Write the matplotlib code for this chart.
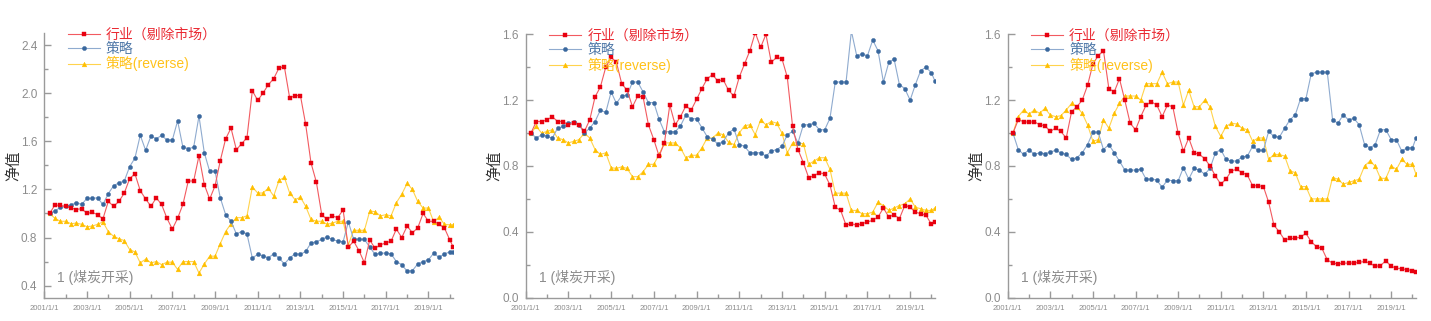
import matplotlib
matplotlib.use("Agg")
import matplotlib.pyplot as plt
import matplotlib.dates as mdates
from matplotlib.ticker import MultipleLocator, FixedLocator
import pandas as pd

plt.rcParams['font.family'] = ['Liberation Sans', 'Noto Sans CJK SC', 'DejaVu Sans']

# ---------------- data ----------------
dates = list(pd.date_range("2001-04-01", "2020-01-01", freq="QS")) + [pd.Timestamp("2020-03-01")]

labels = ["行业（剔除市场）", "策略", "策略(reverse)"]
panel_note = "1 (煤炭开采)"
ylabel = "净值"
major_years = [2001, 2003, 2005, 2007, 2009, 2011, 2013, 2015, 2017, 2019]
minor_years = [2002, 2004, 2006, 2008, 2010, 2012, 2014, 2016, 2018, 2020]

p1_ind = [1.00, 1.07, 1.067, 1.06, 1.047, 1.033, 1.04, 1.00, 1.01, 0.99, 0.955, 1.10, 1.06, 1.10, 1.17, 1.29,
          1.33, 1.19, 1.12, 1.06, 1.13, 1.075, 0.96, 0.87, 0.96, 1.075, 1.27, 1.27, 1.48, 1.24, 1.12, 1.23,
          1.44, 1.62, 1.71, 1.53, 1.58, 1.63, 2.02, 1.94, 2.00, 2.07, 2.12, 2.21, 2.22, 1.96, 1.98, 1.98,
          1.74, 1.42, 1.26, 0.99, 0.95, 0.98, 0.965, 1.03, 0.72, 0.77, 0.69, 0.59, 0.78, 0.71, 0.74, 0.755,
          0.77, 0.87, 0.80, 0.895, 0.84, 0.88, 1.00, 0.935, 0.935, 0.91, 0.88, 0.78, 0.72]
p1_str = [1.00, 1.02, 1.05, 1.06, 1.07, 1.09, 1.075, 1.125, 1.125, 1.13, 1.075, 1.165, 1.23, 1.255, 1.27, 1.39,
          1.46, 1.65, 1.525, 1.645, 1.62, 1.65, 1.61, 1.61, 1.77, 1.55, 1.54, 1.55, 1.81, 1.505, 1.35, 1.35,
          1.13, 0.99, 0.935, 0.83, 0.85, 0.83, 0.63, 0.66, 0.65, 0.63, 0.665, 0.63, 0.58, 0.63, 0.665, 0.66,
          0.685, 0.755, 0.765, 0.785, 0.805, 0.785, 0.77, 0.765, 0.93, 0.785, 0.785, 0.785, 0.72, 0.66, 0.67,
          0.67, 0.665, 0.60, 0.575, 0.52, 0.525, 0.58, 0.60, 0.615, 0.67, 0.635, 0.665, 0.68, 0.68]
p1_rev = [1.00, 0.96, 0.935, 0.935, 0.915, 0.92, 0.91, 0.89, 0.895, 0.91, 0.93, 0.85, 0.81, 0.79, 0.775, 0.70,
          0.68, 0.59, 0.62, 0.59, 0.60, 0.575, 0.595, 0.595, 0.535, 0.60, 0.60, 0.60, 0.505, 0.58, 0.645, 0.645,
          0.75, 0.85, 0.915, 0.965, 0.965, 0.98, 1.22, 1.17, 1.17, 1.21, 1.145, 1.275, 1.30, 1.17, 1.115, 1.135,
          1.06, 0.95, 0.935, 0.935, 0.91, 0.92, 0.935, 0.935, 0.74, 0.86, 0.86, 0.86, 1.02, 1.015, 0.98, 0.99,
          0.98, 1.09, 1.16, 1.25, 1.20, 1.10, 1.045, 1.045, 0.93, 0.97, 0.91, 0.905, 0.905]

p2_ind = [1.00, 1.07, 1.07, 1.08, 1.10, 1.07, 1.07, 1.05, 1.06, 1.05, 1.01, 1.08, 1.22, 1.28, 1.40, 1.46,
          1.43, 1.30, 1.26, 1.16, 1.225, 1.22, 1.05, 0.96, 0.86, 0.94, 1.17, 1.05, 1.10, 1.165, 1.14, 1.205,
          1.27, 1.33, 1.355, 1.315, 1.325, 1.26, 1.225, 1.34, 1.42, 1.50, 1.61, 1.52, 1.60, 1.43, 1.46, 1.45,
          1.34, 1.04, 0.90, 0.82, 0.73, 0.74, 0.76, 0.75, 0.685, 0.55, 0.53, 0.44, 0.45, 0.44, 0.45, 0.46,
          0.47, 0.49, 0.545, 0.49, 0.505, 0.48, 0.56, 0.55, 0.52, 0.51, 0.50, 0.445, 0.46]
p2_str = [1.00, 0.97, 0.99, 0.98, 0.97, 1.03, 1.04, 1.06, 1.07, 1.05, 1.00, 1.03, 1.07, 1.14, 1.125, 1.25,
          1.18, 1.227, 1.23, 1.31, 1.31, 1.25, 1.185, 1.185, 1.083, 1.008, 1.008, 1.008, 1.043, 1.11, 1.087,
          1.087, 1.033, 0.978, 0.962, 0.934, 0.948, 1.00, 1.025, 0.93, 0.92, 0.88, 0.88, 0.88, 0.86, 0.89,
          0.90, 0.92, 0.99, 1.01, 0.94, 1.05, 1.05, 1.06, 1.02, 1.02, 1.09, 1.31, 1.31, 1.31, 1.62, 1.47,
          1.48, 1.47, 1.565, 1.50, 1.31, 1.43, 1.45, 1.295, 1.27, 1.20, 1.295, 1.38, 1.40, 1.365, 1.315]
p2_rev = [1.00, 1.04, 1.00, 1.01, 1.02, 0.97, 0.96, 0.94, 0.95, 0.96, 1.00, 0.97, 0.90, 0.87, 0.88, 0.79,
          0.785, 0.795, 0.785, 0.735, 0.735, 0.765, 0.81, 0.81, 0.87, 0.94, 0.94, 0.94, 0.91, 0.85, 0.865,
          0.865, 0.91, 0.97, 0.97, 1.00, 0.99, 0.945, 0.93, 1.00, 1.045, 1.05, 0.99, 1.08, 1.05, 1.07, 1.06,
          1.00, 0.88, 0.94, 0.94, 0.935, 0.81, 0.83, 0.85, 0.85, 0.78, 0.635, 0.635, 0.635, 0.53, 0.53, 0.51,
          0.51, 0.52, 0.58, 0.56, 0.53, 0.545, 0.56, 0.57, 0.60, 0.55, 0.54, 0.53, 0.53, 0.545]

p3_ind = [1.00, 1.08, 1.07, 1.065, 1.07, 1.05, 1.045, 1.01, 1.03, 1.01, 0.97, 1.13, 1.16, 1.20, 1.29, 1.42,
          1.47, 1.50, 1.27, 1.25, 1.33, 1.20, 1.06, 1.02, 1.10, 1.17, 1.19, 1.17, 1.10, 1.17, 1.16, 1.00,
          0.89, 0.97, 0.88, 0.87, 0.845, 0.80, 0.74, 0.69, 0.72, 0.77, 0.78, 0.76, 0.745, 0.68, 0.68, 0.675,
          0.58, 0.44, 0.40, 0.35, 0.36, 0.36, 0.37, 0.39, 0.34, 0.31, 0.30, 0.23, 0.21, 0.205, 0.21, 0.21,
          0.21, 0.215, 0.22, 0.21, 0.19, 0.195, 0.225, 0.19, 0.18, 0.175, 0.17, 0.165, 0.155]
p3_str = [1.00, 0.90, 0.87, 0.90, 0.87, 0.88, 0.875, 0.885, 0.895, 0.88, 0.87, 0.84, 0.85, 0.88, 0.93, 1.005,
          1.005, 0.90, 0.93, 0.88, 0.83, 0.775, 0.775, 0.775, 0.78, 0.72, 0.72, 0.715, 0.67, 0.715, 0.71, 0.71,
          0.79, 0.72, 0.785, 0.775, 0.75, 0.785, 0.88, 0.90, 0.84, 0.83, 0.83, 0.855, 0.86, 0.92, 0.895, 0.895,
          1.01, 0.98, 0.975, 1.03, 1.08, 1.11, 1.21, 1.21, 1.36, 1.37, 1.37, 1.37, 1.08, 1.06, 1.11, 1.08,
          1.09, 1.05, 0.93, 0.91, 0.93, 1.02, 1.02, 0.96, 0.96, 0.89, 0.91, 0.91, 0.97]
p3_rev = [1.00, 1.10, 1.14, 1.115, 1.14, 1.12, 1.15, 1.11, 1.10, 1.105, 1.14, 1.18, 1.16, 1.12, 1.05, 0.95,
          0.96, 1.08, 1.03, 1.12, 1.18, 1.225, 1.225, 1.225, 1.20, 1.30, 1.30, 1.30, 1.37, 1.30, 1.31, 1.31,
          1.17, 1.26, 1.16, 1.16, 1.20, 1.16, 1.04, 0.98, 1.04, 1.06, 1.055, 1.03, 1.02, 0.95, 0.97, 0.97,
          0.84, 0.87, 0.87, 0.86, 0.77, 0.76, 0.675, 0.675, 0.60, 0.60, 0.60, 0.60, 0.73, 0.72, 0.69, 0.70,
          0.71, 0.72, 0.80, 0.83, 0.80, 0.725, 0.725, 0.80, 0.78, 0.84, 0.81, 0.81, 0.75]

panels = [(p1_ind, p1_str, p1_rev), (p2_ind, p2_str, p2_rev), (p3_ind, p3_str, p3_rev)]
ylims = [(0.3, 2.5), (0.0, 1.6), (0.0, 1.6)]

# ---------------- style ----------------
W, H = 1431, 321
fig = plt.figure(figsize=(W / 100, H / 100), dpi=100)
axes_px = [(44.3, 453.3, 33.0, 297.7), (525.7, 935.0, 34.3, 297.7), (1007.7, 1416.0, 34.3, 297.7)]

line_cols = ["#f25a60", "#8fabcf", "#ffd34d"]
mark_cols = ["#e8000f", "#3a689e", "#ffbf00"]
text_cols = ["#ea2a33", "#4f78a8", "#ffc21a"]
markers = ["s", "o", "^"]
msizes = [3.0, 3.0, 3.4]
gray = "#8c8c8c"

major_x = [mdates.date2num(pd.Timestamp(f"{y}-01-01")) for y in major_years]
minor_x = [mdates.date2num(pd.Timestamp(f"{y}-01-01")) for y in minor_years]

for (ind, st, rv), (x0, x1, yt, yb), yl in zip(panels, axes_px, ylims):
    ax = fig.add_axes([x0 / W, 1 - yb / H, (x1 - x0) / W, (yb - yt) / H])
    for i, ser in enumerate((ind, st, rv)):
        ax.plot(dates, ser, color=line_cols[i], lw=0.8, marker=markers[i], ms=msizes[i],
                mfc=mark_cols[i], mec=mark_cols[i], mew=0.3, label=labels[i], zorder=3 - i * 0.1)
    ax.set_xlim(pd.Timestamp("2001-01-01"), dates[-1])
    ax.set_ylim(*yl)
    for s in ("top", "right"):
        ax.spines[s].set_visible(False)
    for s in ("left", "bottom"):
        ax.spines[s].set_color("#9a9a9a")
        ax.spines[s].set_linewidth(1.0)
    ax.yaxis.set_major_locator(MultipleLocator(0.4))
    ax.yaxis.set_minor_locator(MultipleLocator(0.2))
    ax.yaxis.set_major_formatter(plt.FuncFormatter(lambda v, p: f"{v:.1f}"))
    ax.xaxis.set_major_locator(FixedLocator(major_x))
    ax.xaxis.set_minor_locator(FixedLocator(minor_x))
    ax.xaxis.set_major_formatter(plt.FuncFormatter(
        lambda v, p: (lambda d: f"{d.year}/{d.month}/{d.day}")(mdates.num2date(v))))
    ax.tick_params(axis="both", which="both", direction="in", color="#9a9a9a")
    ax.tick_params(axis="y", which="major", length=5, width=1, labelsize=8.5, labelcolor=gray, pad=5)
    ax.tick_params(axis="y", which="minor", length=3, width=1)
    ax.tick_params(axis="x", which="major", length=5, width=1, labelsize=5.5, labelcolor=gray, pad=5)
    ax.tick_params(axis="x", which="minor", length=3, width=1)
    ax.set_ylabel(ylabel, fontsize=11, color="#333333")
    ax.yaxis.set_label_coords(-23.5 / (x1 - x0), 0.5)
    ax.text(0.032, 0.075, panel_note, transform=ax.transAxes, fontsize=10, color=gray,
            va="center", ha="left")
    leg = ax.legend(loc="upper left", bbox_to_anchor=(0.057, 1.02), frameon=False,
                    borderaxespad=0, borderpad=0, handlelength=2.3, handletextpad=0.45,
                    labelspacing=0.02, fontsize=10)
    for t, c in zip(leg.get_texts(), text_cols):
        t.set_color(c)

fig.savefig("out.png", dpi=100)
